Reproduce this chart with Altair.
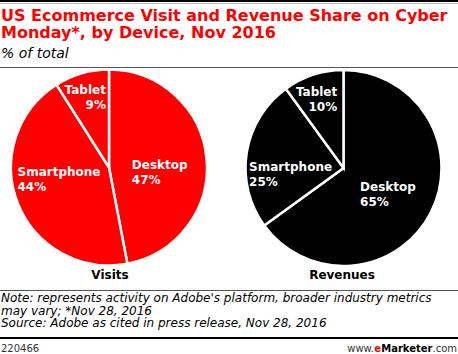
import altair as alt
import pandas as pd

# ---- data ----
devices = ["Desktop", "Smartphone", "Tablet"]
visits = [47, 44, 9]
revenues = [65, 25, 10]
pie_titles = ["Visits", "Revenues"]
title_lines = ["US Ecommerce Visit and Revenue Share on Cyber",
               "Monday*, by Device, Nov 2016"]
subtitle = "% of total"
note_lines = ["Note: represents activity on Adobe's platform, broader industry metrics",
              "may vary; *Nov 28, 2016",
              "Source: Adobe as cited in press release, Nov 28, 2016"]
chart_id = "220466"
brand = ["www.", "e", "Marketer", ".com"]

# ---- style ----
W, H = 458, 354
RED = "#ff0000"
FONT = "DejaVu Sans"
theta_scale = alt.Scale(domain=[0, 100])
one = pd.DataFrame({"a": [0]})


def pie_df(values):
    return pd.DataFrame({
        "device": devices,
        "share": values,
        "order": list(range(len(devices))),
        "label": [f"{d}\n{v}%" for d, v in zip(devices, values)],
    })


def pie_layers(values, cx, cy, color, label_layout):
    base = alt.Chart(pie_df(values)).transform_window(
        end="sum(share)", frame=[None, 0], sort=[alt.SortField("order")]
    ).transform_calculate(
        start="datum.end - datum.share", mid="datum.end - datum.share / 2"
    )
    arc = base.mark_arc(outerRadius=98, stroke="white", strokeWidth=2.5, color=color).encode(
        theta=alt.Theta("start:Q", scale=theta_scale),
        theta2="end:Q",
        x=alt.value(cx), y=alt.value(cy),
    )
    layers = [arc]
    for dev, (r, align, dx, dy) in label_layout.items():
        t = base.transform_filter(alt.datum.device == dev).mark_text(
            radius=r, align=align, dx=dx, dy=dy, baseline="middle", lineBreak="\n",
            font=FONT, fontWeight="bold", fontSize=12, lineHeight=15, color="white",
        ).encode(
            theta=alt.Theta("mid:Q", scale=theta_scale),
            text="label:N",
            x=alt.value(cx), y=alt.value(cy),
        )
        layers.append(t)
    return layers


def txt(s, x, y, size, weight="normal", style="normal", color="black", align="left",
        line_height=None):
    kw = dict(align=align, baseline="alphabetic", fontSize=size, fontWeight=weight,
              fontStyle=style, color=color, font=FONT)
    if line_height is not None:
        kw.update(lineBreak="\n", lineHeight=line_height)
    return alt.Chart(one).mark_text(**kw).encode(
        x=alt.value(x), y=alt.value(y), text=alt.value(s))


def rule(y, color, width):
    return alt.Chart(one).mark_rule(color=color, strokeWidth=width).encode(
        x=alt.value(0), x2=alt.value(W), y=alt.value(y))


layers = []
layers += [rule(1, "black", 2), rule(3.5, "#bbbbbb", 1)]
layers += [txt("\n".join(title_lines), 1, 21, 16, "bold", color=RED, line_height=17),
           txt(subtitle, 1, 58, 14, style="italic")]
layers += [rule(67.5, "#555555", 1)]

layers += pie_layers(visits, 109, 167.5, RED, {
    "Desktop": (50, "left", -27, 2.5),
    "Smartphone": (50, "left", -45, -13.5),
    "Tablet": (72, "right", 17, -8.5),
})
layers += pie_layers(revenues, 343.5, 168, "black", {
    "Desktop": (50, "left", -28, -3.5),
    "Smartphone": (50, "left", -45, 6.5),
    "Tablet": (72, "right", 16, -7.5),
})
layers += [txt(pie_titles[0], 110, 279, 12, "bold", align="center"),
           txt(pie_titles[1], 342, 279, 12, "bold", align="center")]
layers += [rule(290.5, "#555555", 1)]
layers += [txt("\n".join(note_lines), 1, 302, 12, style="italic", line_height=12.5)]
layers += [rule(338, "black", 2)]
layers += [txt(chart_id, 1, 351.5, 10, color="#333333"),
           txt(brand[0], 374, 351.5, 10, color="#333333", align="right"),
           txt(brand[1], 381, 351.5, 10, "bold", color=RED, align="right"),
           txt(brand[2], 432.5, 351.5, 10, "bold", align="right"),
           txt(brand[3], 457, 351.5, 10, color="#333333", align="right")]

chart = alt.layer(*layers).properties(
    width=W, height=H,
    autosize=alt.AutoSizeParams(type="none"),
    padding=0,
).configure_view(stroke=None)

chart.save("out.html", embed_options={"renderer": "svg", "actions": False})
